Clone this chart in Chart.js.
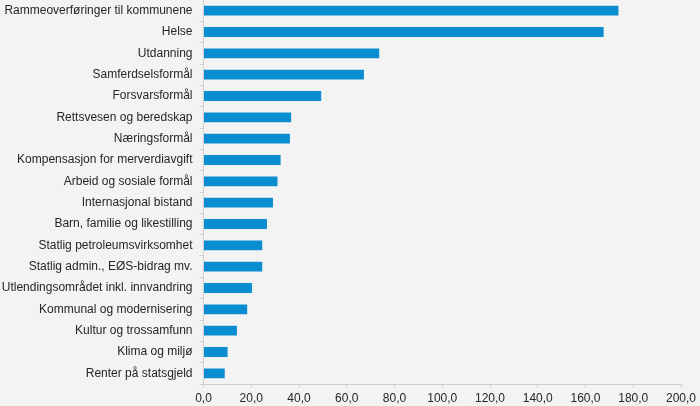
<!DOCTYPE html>
<html>
<head>
<meta charset="utf-8">
<script src="https://cdn.jsdelivr.net/npm/chart.js@4"></script>
<style>
html,body{margin:0;padding:0;background:#f3f3f3;}
#wrap{width:700px;height:406px;position:relative;}
</style>
</head>
<body>
<div id="wrap"><canvas id="c"></canvas></div>
<script>
const categories = [
  "Rammeoverføringer til kommunene",
  "Helse",
  "Utdanning",
  "Samferdselsformål",
  "Forsvarsformål",
  "Rettsvesen og beredskap",
  "Næringsformål",
  "Kompensasjon for merverdiavgift",
  "Arbeid og sosiale formål",
  "Internasjonal bistand",
  "Barn, familie og likestilling",
  "Statlig petroleumsvirksomhet",
  "Statlig admin., EØS-bidrag mv.",
  "Utlendingsområdet inkl. innvandring",
  "Kommunal og modernisering",
  "Kultur og trossamfunn",
  "Klima og miljø",
  "Renter på statsgjeld"
];
const values = [173.8, 167.6, 73.6, 67.2, 49.3, 36.7, 36.2, 32.3, 31.0, 29.1, 26.6, 24.6, 24.6, 20.3, 18.3, 14.0, 10.1, 8.9];
const xTicks = [0, 20, 40, 60, 80, 100, 120, 140, 160, 180, 200];

Chart.defaults.font.family = "'Liberation Sans', Arial, sans-serif";
Chart.defaults.font.size = 12;
Chart.defaults.color = "#262626";

new Chart(document.getElementById('c'), {
  type: 'bar',
  data: {
    labels: categories,
    datasets: [{
      data: values,
      backgroundColor: '#0a8ed1',
      borderWidth: 0,
      categoryPercentage: 0.5,
      barPercentage: 0.92
    }]
  },
  options: {
    indexAxis: 'y',
    responsive: true,
    maintainAspectRatio: false,
    animation: false,
    layout: { padding: { top: 0, right: 19, bottom: 0, left: 0 } },
    plugins: { legend: { display: false }, tooltip: { enabled: false } },
    scales: {
      x: {
        min: xTicks[0],
        max: xTicks[xTicks.length - 1],
        afterBuildTicks: s => { s.ticks = xTicks.map(v => ({ value: v })); },
        ticks: {
          padding: 3,
          maxRotation: 0,
          callback: v => Number(v).toFixed(1).replace('.', ',')
        },
        grid: { drawOnChartArea: false, tickLength: 4, color: '#cfcfcf' },
        border: { color: '#cfcfcf' },
        afterFit: s => { s.height = 22; }
      },
      y: {
        ticks: { padding: 7, autoSkip: false },
        grid: { drawOnChartArea: false, tickLength: 4, color: '#cfcfcf', offset: true },
        border: { color: '#cfcfcf' },
        afterFit: s => { s.width = 203.5; s.paddingTop = 0; s.paddingBottom = 0; }
      }
    }
  }
});
</script>
</body>
</html>
